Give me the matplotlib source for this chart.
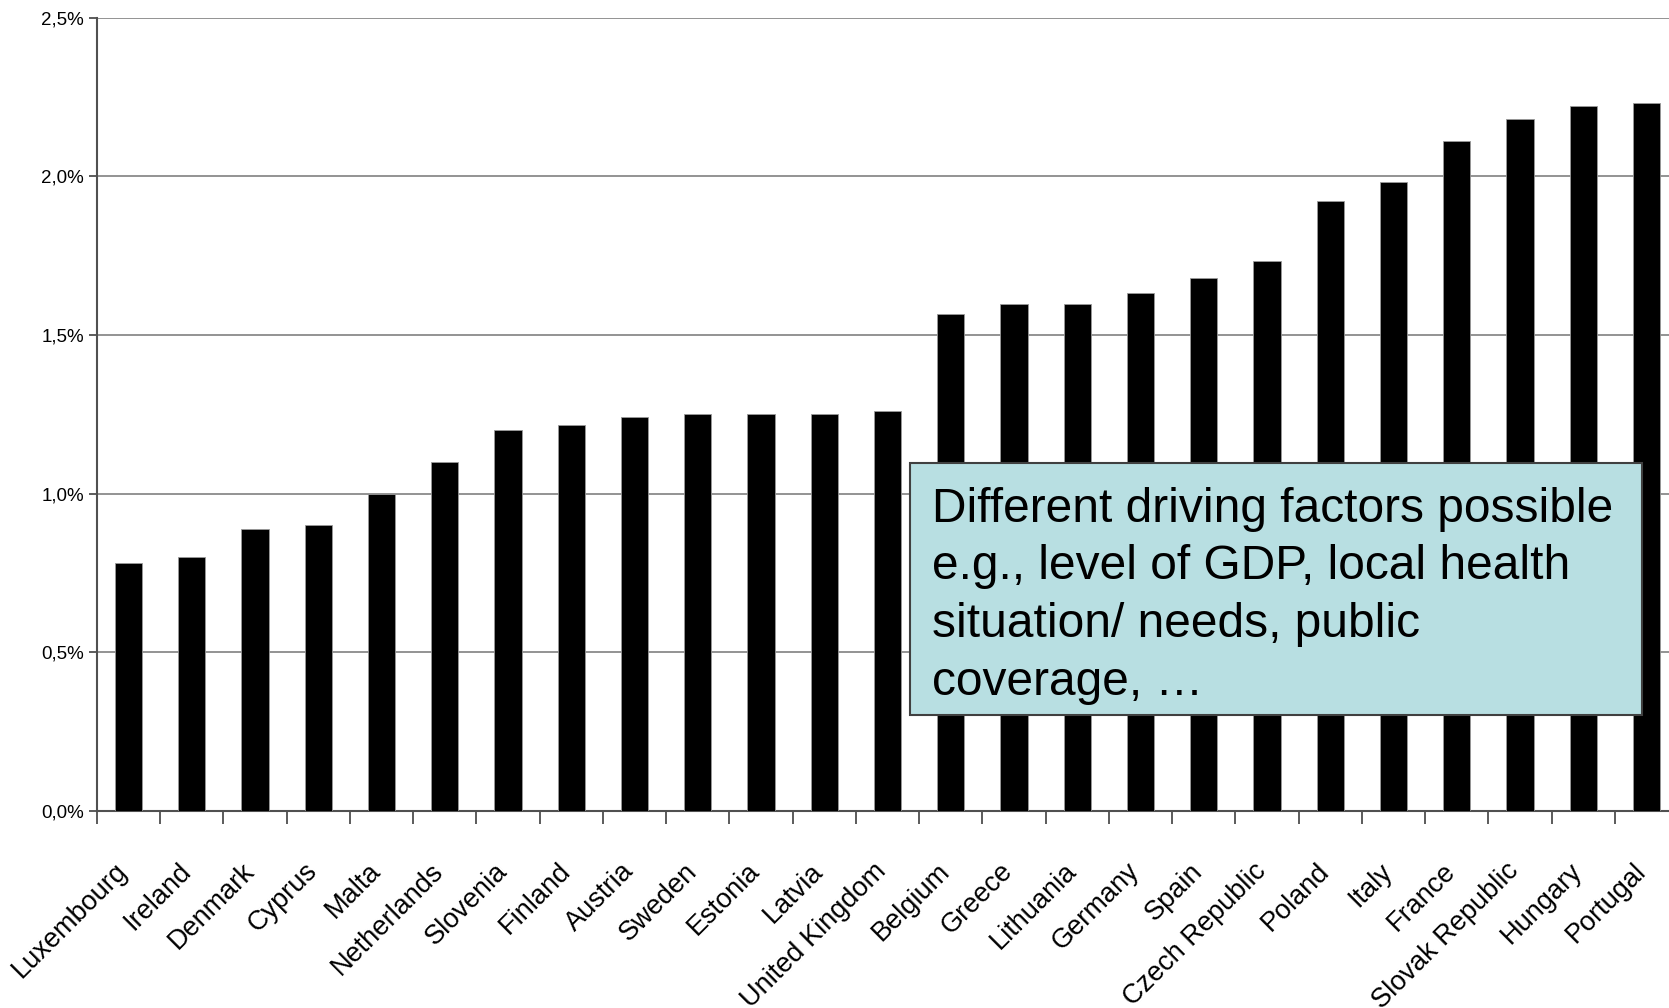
import matplotlib
matplotlib.use("Agg")
import matplotlib.pyplot as plt
import numpy as np
from matplotlib.patches import Rectangle
from matplotlib.ticker import FuncFormatter, MultipleLocator

plt.rcParams["font.family"] = ["Liberation Sans", "DejaVu Sans"]

countries = [
    "Luxembourg", "Ireland", "Denmark", "Cyprus", "Malta", "Netherlands",
    "Slovenia", "Finland", "Austria", "Sweden", "Estonia", "Latvia",
    "United Kingdom", "Belgium", "Greece", "Lithuania", "Germany", "Spain",
    "Czech Republic", "Poland", "Italy", "France", "Slovak Republic",
    "Hungary", "Portugal",
]
# share in percent
values = [
    0.78, 0.80, 0.89, 0.90, 1.00, 1.10,
    1.20, 1.215, 1.24, 1.25, 1.25, 1.25,
    1.26, 1.565, 1.597, 1.597, 1.633, 1.678,
    1.733, 1.922, 1.982, 2.11, 2.18,
    2.22, 2.232,
]
note = "Different driving factors possible\ne.g., level of GDP, local health\nsituation/ needs, public\ncoverage, \u2026"

fig = plt.figure(figsize=(16.69, 10.08), dpi=100)
ax = fig.add_axes([0.0581, 0.1954, 0.9474, 0.7872])

x = np.arange(len(countries))
ax.bar(x, values, width=0.43, color="black", edgecolor="#9a9a9a", linewidth=0.6, zorder=3)

ax.set_xlim(-0.5, len(countries) - 0.5)
ax.set_ylim(0, 2.5)
ax.yaxis.set_major_locator(MultipleLocator(0.5))
ax.yaxis.set_major_formatter(FuncFormatter(lambda v, p: f"{v:.1f}%".replace(".", ",")))
ax.grid(axis="y", color="#808080", linewidth=1.2, zorder=0)

# ticks sit between categories, labels at the category centres
ax.set_xticks(np.arange(len(countries) + 1) - 0.5)
ax.set_xticklabels([])
ax.set_xticks(x, minor=True)
ax.set_xticklabels(countries, minor=True, rotation=45, ha="right", va="baseline",
                   rotation_mode="anchor", fontsize=19.5)
ax.tick_params(axis="x", which="minor", length=0, pad=44)
ax.tick_params(axis="x", which="major", length=9, width=1.2, color="#404040", direction="out")
ax.tick_params(axis="y", length=6, width=1.2, color="#404040", labelsize=13.5)

for side in ["top", "right"]:
    ax.spines[side].set_visible(False)
ax.spines["left"].set_color("#505050")
ax.spines["left"].set_linewidth(1.5)
ax.spines["bottom"].set_color("#505050")
ax.spines["bottom"].set_linewidth(1.5)

# annotation box
fig.patches.append(Rectangle((0.5452, 0.2907), 0.4386, 0.2503, transform=fig.transFigure,
                             facecolor="#b8dfe2", edgecolor="#404040", linewidth=1.5, zorder=5))
fig.text(0.5582, 0.517, note, fontsize=34.5, va="top", ha="left", linespacing=1.36, zorder=6)

fig.savefig("out.png", dpi=100)
